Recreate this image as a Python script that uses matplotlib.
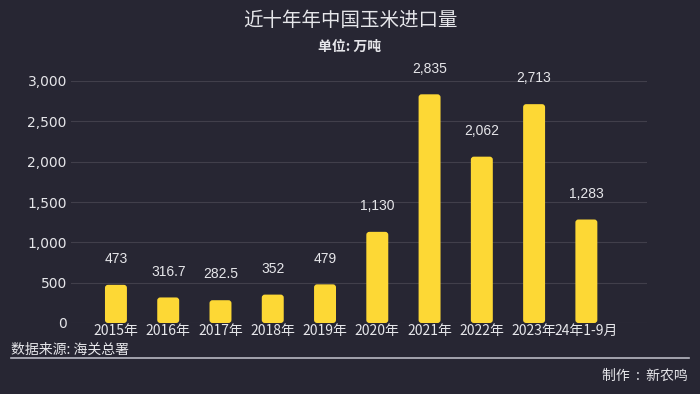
import matplotlib.pyplot as plt
from matplotlib.patches import FancyBboxPatch

plt.rcParams['font.family'] = ['Noto Sans CJK SC', 'DejaVu Sans']

years = ['2015年', '2016年', '2017年', '2018年', '2019年', '2020年',
         '2021年', '2022年', '2023年', '24年1-9月']
imports = [473, 316.7, 282.5, 352, 479, 1130, 2835, 2062, 2713, 1283]
labels = ['473', '316.7', '282.5', '352', '479', '1,130', '2,835', '2,062', '2,713', '1,283']
yticks = [0, 500, 1000, 1500, 2000, 2500, 3000]

bg = '#272633'
txt = '#e6e6ea'
yellow = '#fdd835'

fig = plt.figure(figsize=(7, 3.94), dpi=100, facecolor=bg)
ax = fig.add_axes([71/700, 1-323/394, (647-71)/700, (323-81)/394])
ax.set_facecolor(bg)

x = list(range(len(years)))
ax.set_xlim(-0.86, 10.16)
ax.set_ylim(0, 3000)

# rounded bars: aspect so corners look round in pixels
w = 0.42
xpp = (10.16 + 0.86) / 576
ypp = 3000 / 242
for xi, v, lab in zip(x, imports, labels):
    p = FancyBboxPatch((xi - w/2, 0), w, v,
                       boxstyle='round,pad=0,rounding_size=%f' % (3*xpp),
                       mutation_aspect=ypp/xpp,
                       facecolor=yellow, edgecolor='none', zorder=3)
    ax.add_patch(p)
    ax.annotate(lab, (xi, v), xytext=(0, 13.5), textcoords='offset points',
                ha='center', va='bottom', color=txt, fontsize=10,
                family=['Liberation Sans', 'DejaVu Sans'], clip_on=False)

for t in yticks:
    ax.axhline(t, color='#413f4b', lw=0.8, zorder=1)

ax.set_yticks(yticks)
ax.set_yticklabels(['{:,}'.format(t) for t in yticks],
                   family=['DejaVu Sans'], fontsize=10, color=txt)
ax.set_xticks(x)
ax.set_xticklabels(years, fontsize=10, color=txt)
ax.tick_params(length=0, pad=3)
ax.tick_params(axis='x', pad=1)
for s in ax.spines.values():
    s.set_visible(False)

fig.text(0.5, 1-20.5/394, '近十年年中国玉米进口量', ha='center', va='center',
         color=txt, fontsize=14)
fig.text(0.5, 1-47/394, '单位: 万吨', ha='center', va='center',
         color=txt, fontsize=10, weight='bold')
fig.text(11/700, 1-350/394, '数据来源: 海关总署', ha='left', va='center',
         color=txt, fontsize=10)
fig.add_artist(plt.Line2D([11/700, 689/700], [1-357.5/394, 1-357.5/394],
                          color='#b8b8c2', lw=1.2))
fig.text(688/700, 1-376/394, '制作  :  新农鸣', ha='right', va='center',
         color=txt, fontsize=10)

fig.savefig('out.png', dpi=100, facecolor=bg)
